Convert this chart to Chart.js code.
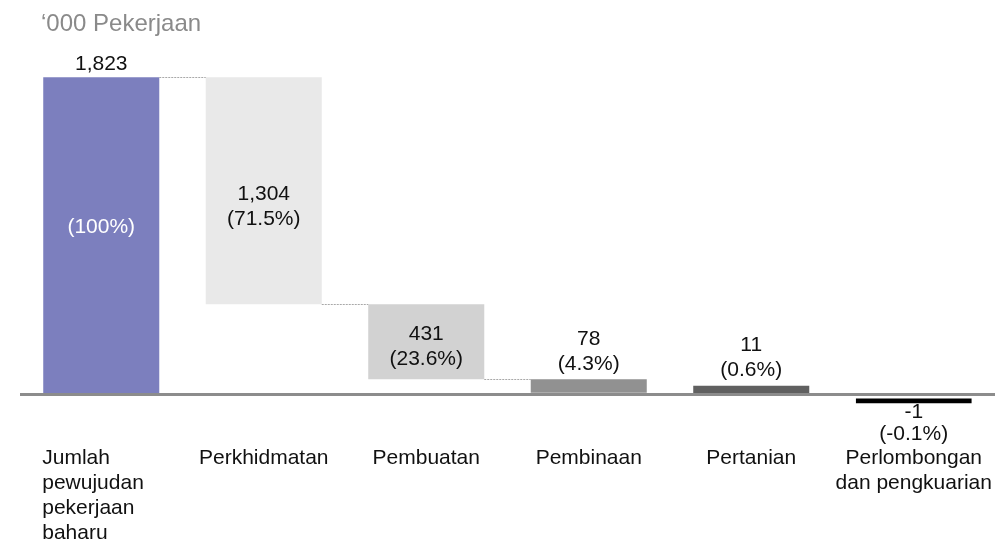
<!DOCTYPE html>
<html><head><meta charset="utf-8">
<script src="https://cdn.jsdelivr.net/npm/chart.js@4/dist/chart.umd.min.js"></script>
<style>html,body{margin:0;padding:0;background:#fff}canvas{display:block}</style>
</head><body>
<canvas id="c" width="999" height="540"></canvas>
<script>
const unitTitle = "‘000 Pekerjaan";
const categories = [["Jumlah","pewujudan","pekerjaan","baharu"], "Perkhidmatan", "Pembuatan", "Pembinaan", "Pertanian", ["Perlombongan","dan pengkuarian"]];
const jobChanges = [1823, 1304, 431, 78, 11, -1];
const valueLabels = ["1,823", "1,304", "431", "78", "11", "-1"];
const shareLabels = ["(100%)", "(71.5%)", "(23.6%)", "(4.3%)", "(0.6%)", "(-0.1%)"];
const barColors = ["#7c7fbe", "#e9e9e9", "#d2d2d2", "#919191", "#606060", "#000000"];

// waterfall floating ranges derived from the changes
const ranges = [];
let level = 0;
jobChanges.forEach((c, i) => {
  if (i === 0) { ranges.push([0, c]); level = c; }
  else { ranges.push([level - c, level]); level -= c; }
});

const FONT = '"Liberation Sans", Arial, Helvetica, sans-serif';
const labelModes = ['split', 'inside', 'inside', 'above', 'above', 'below'];
const insideShift = [-10, 14, 3, 0, 0, 0];

const waterfallText = {
  id: 'waterfallText',
  afterDatasetsDraw(chart) {
    const ctx = chart.ctx, ys = chart.scales.y, meta = chart.getDatasetMeta(0);
    ctx.save();
    ctx.strokeStyle = '#a8a8a8';
    ctx.lineWidth = 1;
    ctx.setLineDash([2, 1]);
    for (let i = 0; i < meta.data.length - 1; i++) {
      const a = meta.data[i], b = meta.data[i + 1];
      const lv = i === 0 ? ranges[0][1] : ranges[i][0];
      const py = Math.round(ys.getPixelForValue(lv)) + 0.5;
      ctx.beginPath();
      ctx.moveTo(a.x + a.width / 2, py);
      ctx.lineTo(b.x - b.width / 2, py);
      ctx.stroke();
    }
    ctx.restore();
  },
  afterDraw(chart) {
    const ctx = chart.ctx, ys = chart.scales.y, meta = chart.getDatasetMeta(0);
    const LH = 25, HALF = 7.5;
    const zero = ys.getPixelForValue(0);
    ctx.save();
    ctx.textBaseline = 'alphabetic';
    // unit title
    ctx.font = '24px ' + FONT;
    ctx.fillStyle = '#8a8a8a';
    ctx.textAlign = 'left';
    ctx.fillText(unitTitle, 41, 31);

    ctx.font = '21px ' + FONT;
    ctx.textAlign = 'center';
    meta.data.forEach((bar, i) => {
      const top = Math.min(bar.y, bar.base), bottom = Math.max(bar.y, bar.base);
      const mid = (top + bottom) / 2;
      const mode = labelModes[i];
      const put = (t, cy, col) => { ctx.fillStyle = col || '#111'; ctx.fillText(t, bar.x, cy + HALF); };
      if (mode === 'split') {
        put(valueLabels[i], top - 15);
        put(shareLabels[i], mid + insideShift[i], '#ffffff');
      } else if (mode === 'inside') {
        const c = mid + insideShift[i];
        put(valueLabels[i], c - LH / 2);
        put(shareLabels[i], c + LH / 2);
      } else if (mode === 'above') {
        put(valueLabels[i], top - 17 - LH);
        put(shareLabels[i], top - 17);
      } else {
        put(valueLabels[i], bottom + 7);
        put(shareLabels[i], bottom + 7 + 22);
      }
    });

    // category labels
    ctx.fillStyle = '#111';
    categories.forEach((lab, i) => {
      const bar = meta.data[i];
      const lines = Array.isArray(lab) ? lab : [lab];
      let x;
      if (i === 0) { ctx.textAlign = 'left'; x = bar.x - bar.width / 2 - 1; }
      else { ctx.textAlign = 'center'; x = bar.x; }
      lines.forEach((t, k) => ctx.fillText(t, x, zero + 69.5 + k * LH));
    });
    ctx.restore();
  }
};

new Chart(document.getElementById('c'), {
  type: 'bar',
  data: {
    labels: categories,
    datasets: [{
      data: ranges,
      backgroundColor: barColors,
      borderColor: '#ffffff',
      borderWidth: (c) => c.dataIndex === 5 ? {top: 4, right: 0, bottom: 0, left: 0} : 0,
      borderSkipped: false,
      minBarLength: 9,
      base: -0.001,
      barPercentage: 1,
      categoryPercentage: 0.714
    }]
  },
  options: {
    responsive: false,
    animation: false,
    events: [],
    layout: {padding: {left: 20, right: 4, top: 63.9, bottom: 128.1}},
    plugins: {legend: {display: false}, tooltip: {enabled: false}, title: {display: false}},
    scales: {
      x: {display: false},
      y: {
        min: -100, max: 1900,
        ticks: {display: false, stepSize: 100},
        border: {display: false},
        grid: {
          z: 1,
          drawTicks: false,
          color: (c) => (c.tick && c.tick.value === 0) ? '#8c8c8c' : 'rgba(0,0,0,0)',
          lineWidth: (c) => (c.tick && c.tick.value === 0) ? 3 : 0
        }
      }
    }
  },
  plugins: [waterfallText]
});
</script>
</body></html>
